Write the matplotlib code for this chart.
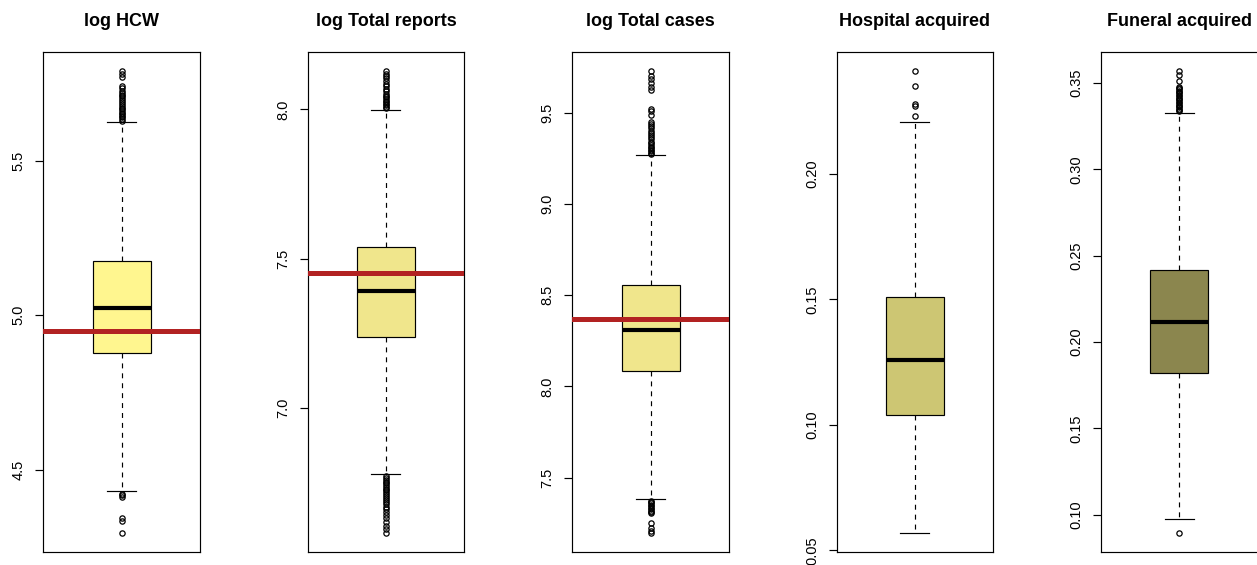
import matplotlib
matplotlib.use("Agg")
import matplotlib.pyplot as plt

plt.rcParams["font.family"] = ["Liberation Sans", "DejaVu Sans"]

titles = ["log HCW", "log Total reports", "log Total cases",
          "Hospital acquired", "Funeral acquired"]
fills = ["#FFF68F", "#F0E68C", "#F0E68C", "#CDC673", "#8B864E"]

# box summaries: q1, median, q3, lower whisker, upper whisker
q1 = [4.876, 7.238, 8.085, 0.1041, 0.1820]
med = [5.024, 7.392, 8.312, 0.1260, 0.2115]
q3 = [5.176, 7.539, 8.559, 0.1509, 0.2419]
whislo = [4.431, 6.778, 7.381, 0.0567, 0.0972]
whishi = [5.624, 7.997, 9.268, 0.2206, 0.3328]

# observed values (red reference lines); none for the last two
observed = [4.949, 7.453, 8.372, None, None]

fliers = [
    [5.630, 5.635, 5.640, 5.645, 5.650, 5.655, 5.660, 5.666, 5.672, 5.678,
     5.684, 5.690, 5.696, 5.702, 5.708, 5.714, 5.720, 5.727, 5.734, 5.742,
     5.772, 5.782, 5.792,
     4.420, 4.416, 4.412, 4.342, 4.334, 4.293],
    [8.003, 8.008, 8.013, 8.018, 8.023, 8.028, 8.034, 8.040, 8.046, 8.052,
     8.060, 8.068, 8.077, 8.086, 8.095, 8.104, 8.112, 8.120, 8.130,
     6.772, 6.766, 6.760, 6.754, 6.748, 6.742, 6.736, 6.730, 6.724, 6.718,
     6.712, 6.706, 6.700, 6.693, 6.686, 6.678, 6.670, 6.661, 6.652, 6.642,
     6.632, 6.620, 6.606, 6.594, 6.580],
    [9.276, 9.284, 9.292, 9.300, 9.308, 9.316, 9.324, 9.334, 9.344, 9.356,
     9.368, 9.380, 9.392, 9.404, 9.416, 9.428, 9.440, 9.451, 9.490, 9.510,
     9.524, 9.625, 9.645, 9.665, 9.685, 9.705, 9.734,
     7.374, 7.366, 7.358, 7.350, 7.342, 7.334, 7.326, 7.318, 7.310, 7.304,
     7.251, 7.222, 7.205, 7.193],
    [0.2232, 0.2272, 0.2279, 0.2349, 0.2412],
    [0.3336, 0.3344, 0.3352, 0.3360, 0.3368, 0.3376, 0.3384, 0.3392, 0.3400,
     0.3408, 0.3416, 0.3424, 0.3432, 0.3440, 0.3448, 0.3456, 0.3464, 0.3472,
     0.3480, 0.3515, 0.3545, 0.3573,
     0.0891],
]

yticks = [
    [4.5, 5.0, 5.5],
    [7.0, 7.5, 8.0],
    [7.5, 8.0, 8.5, 9.0, 9.5],
    [0.05, 0.10, 0.15, 0.20],
    [0.10, 0.15, 0.20, 0.25, 0.30, 0.35],
]
tick_fmt = ["%.1f", "%.1f", "%.1f", "%.2f", "%.2f"]

W, H = 1257, 565
fig = plt.figure(figsize=(W / 100, H / 100), dpi=100)

lefts = [43.5, 307.7, 572.3, 836.7, 1101.0]
pw = 156.5
top_px, bot_px = 52, 552

for i in range(5):
    ax = fig.add_axes([lefts[i] / W, 1 - bot_px / H, pw / W, (bot_px - top_px) / H])
    stats = [{
        "med": med[i], "q1": q1[i], "q3": q3[i],
        "whislo": whislo[i], "whishi": whishi[i], "fliers": fliers[i],
    }]
    ax.bxp(stats, positions=[0.5], widths=0.37, capwidths=0.185,
           patch_artist=True,
           boxprops=dict(facecolor=fills[i], edgecolor="black", linewidth=0.85),
           medianprops=dict(color="black", linewidth=3.0, solid_capstyle="butt"),
           whiskerprops=dict(color="black", linewidth=0.85, linestyle=(0, (4.2, 4.2))),
           capprops=dict(color="black", linewidth=0.85),
           flierprops=dict(marker="o", markersize=3.8, markerfacecolor="none",
                           markeredgecolor="black", markeredgewidth=0.9))
    if observed[i] is not None:
        ax.axhline(observed[i], color="#B22222", linewidth=3.6, zorder=5)

    # R style range padding of 4%
    vals = fliers[i] + [whislo[i], whishi[i]]
    lo, hi = min(vals), max(vals)
    r = hi - lo
    ax.set_ylim(lo - 0.04 * r, hi + 0.04 * r)
    ax.set_xlim(0, 1)
    ax.set_xticks([])
    ax.set_yticks(yticks[i])
    ax.set_yticklabels([tick_fmt[i] % v for v in yticks[i]], rotation=90,
                       va="center", fontsize=10.5)
    ax.tick_params(axis="y", length=5.8, width=0.85, pad=7)
    for s in ax.spines.values():
        s.set_linewidth(0.85)
    ax.set_title(titles[i], fontsize=13, fontweight="bold", pad=19)

fig.savefig("out.png", dpi=100)
